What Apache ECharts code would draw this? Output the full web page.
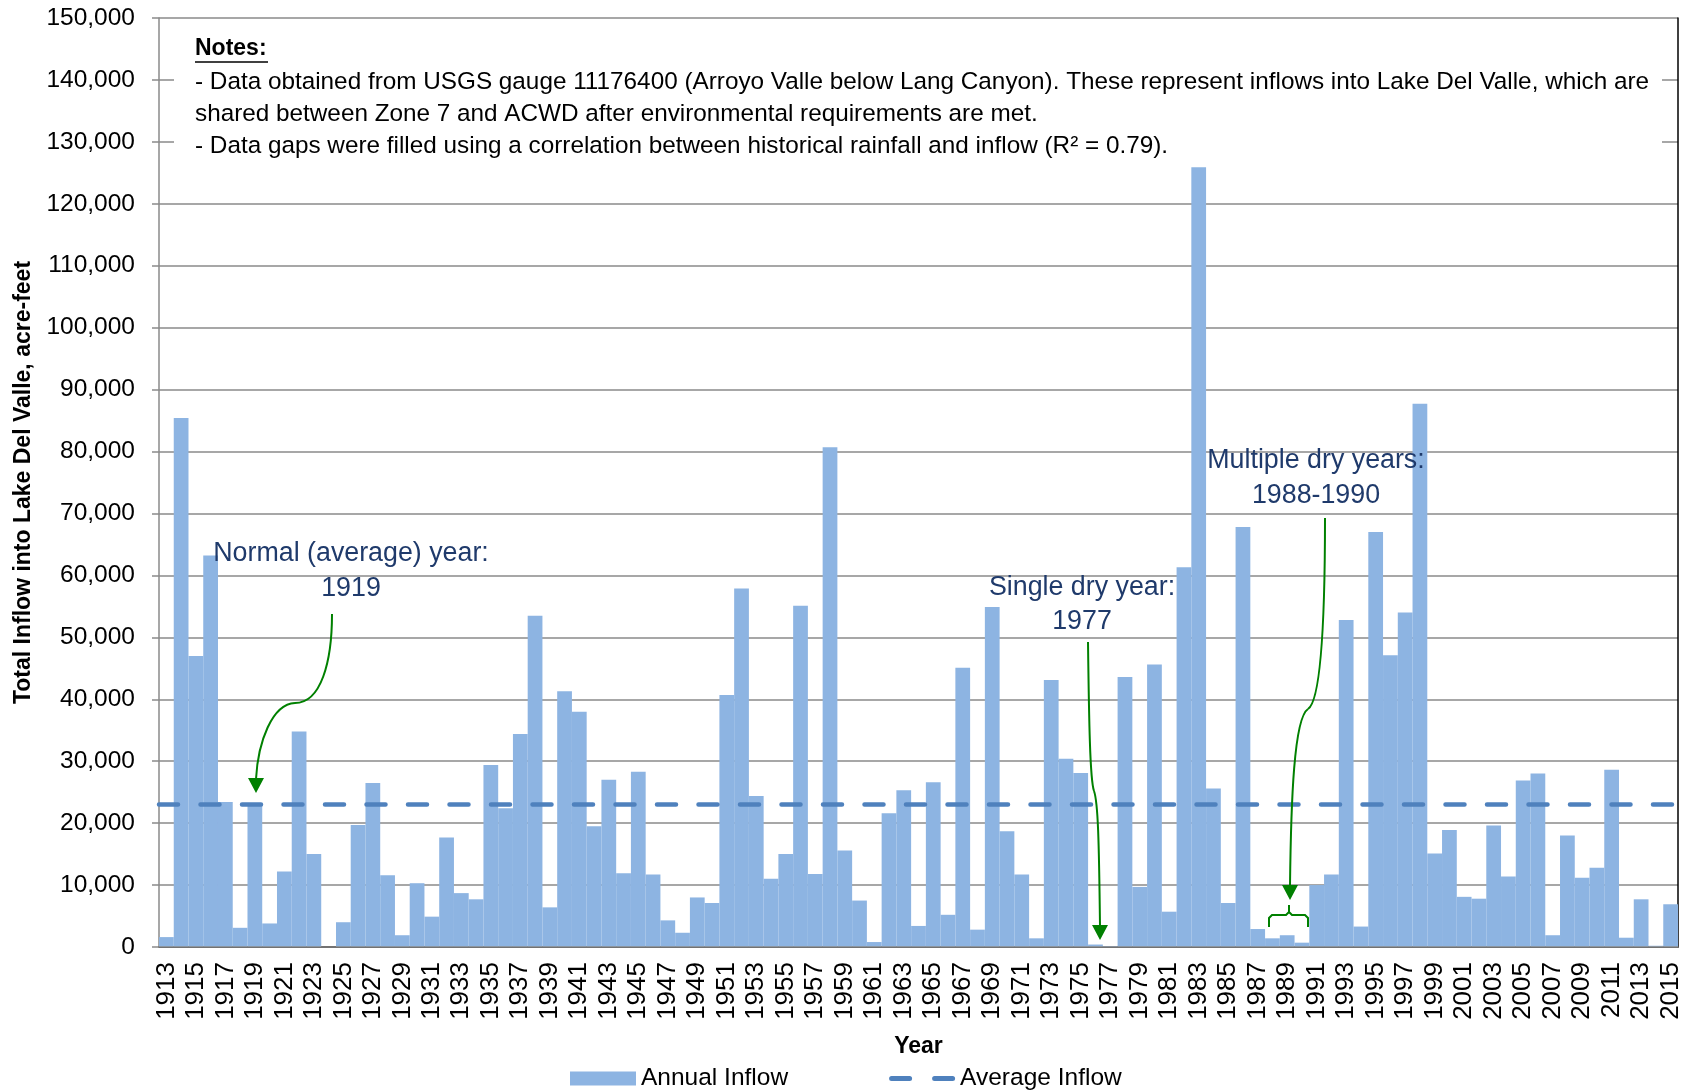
<!DOCTYPE html>
<html>
<head>
<meta charset="utf-8">
<title>Total Inflow into Lake Del Valle</title>
<script src="https://cdn.jsdelivr.net/npm/echarts@6/dist/echarts.min.js"></script>
<style>
  html, body { margin: 0; padding: 0; background: #fff; }
  #chart { width: 1688px; height: 1091px; }
</style>
</head>
<body>
<div id="chart"></div>
<script>
// years on the category axis
var YEARS = [
  '1913','1914','1915','1916','1917','1918','1919','1920','1921','1922',
  '1923','1924','1925','1926','1927','1928','1929','1930','1931','1932',
  '1933','1934','1935','1936','1937','1938','1939','1940','1941','1942',
  '1943','1944','1945','1946','1947','1948','1949','1950','1951','1952',
  '1953','1954','1955','1956','1957','1958','1959','1960','1961','1962',
  '1963','1964','1965','1966','1967','1968','1969','1970','1971','1972',
  '1973','1974','1975','1976','1977','1978','1979','1980','1981','1982',
  '1983','1984','1985','1986','1987','1988','1989','1990','1991','1992',
  '1993','1994','1995','1996','1997','1998','1999','2000','2001','2002',
  '2003','2004','2005','2006','2007','2008','2009','2010','2011','2012',
  '2013','2014','2015'
];

// annual inflow, acre-feet
var ANNUAL_INFLOW = [
  1600, 85400, 47000, 63200, 23400, 3100, 23000, 3800, 12200, 34800,
  15000, 0, 4000, 19700, 26500, 11600, 1900, 10300, 4900, 17700,
  8700, 7700, 29400, 22400, 34400, 53500, 6400, 41300, 38000, 19500,
  27000, 11900, 28300, 11700, 4300, 2300, 8000, 7100, 40700, 57900,
  24400, 11000, 15000, 55100, 11800, 80700, 15600, 7500, 800, 21600,
  25300, 3400, 26600, 5200, 45100, 2800, 54900, 18700, 11700, 1400,
  43100, 30400, 28100, 400, 150, 43600, 9700, 45600, 5700, 61300,
  125900, 25600, 7100, 67800, 2900, 1400, 1900, 700, 10000, 11700,
  52800, 3300, 67000, 47100, 54000, 87700, 15100, 18900, 8100, 7800,
  19600, 11400, 26900, 28000, 1900, 18000, 11200, 12800, 28600, 1500,
  7700, 200, 6900
];

var AVERAGE_INFLOW = 23000;

var NOTES = [
  '- Data obtained from USGS gauge 11176400 (Arroyo Valle below Lang Canyon). These represent inflows into Lake Del Valle, which are',
  'shared between Zone 7 and ACWD after environmental requirements are met.',
  '- Data gaps were filled using a correlation between historical rainfall and inflow (R\u00b2 = 0.79).'
];

var FONT = "'Liberation Sans', Arial, sans-serif";
var GRID_GRAY = '#8a8a8a';
var BAR_BLUE = '#8db4e2';
var AVG_BLUE = '#4f81bd';
var NOTE_BLUE = '#1f3a6b';
var ARROW_GREEN = '#008000';

// two rounded dashes for the legend of the average line
var DASH_ICON = 'path://M2.5,4.5H20.5A2.5,2.5,0,0,1,20.5,9.5H2.5A2.5,2.5,0,0,1,2.5,4.5Z' +
  'M45.5,4.5H63.5A2.5,2.5,0,0,1,63.5,9.5H45.5A2.5,2.5,0,0,1,45.5,4.5Z';

var mychart = echarts.init(document.getElementById('chart'));

function noteText(str, x, y, bold) {
  return {
    type: 'text', z: 10, x: x, y: y,
    style: {
      text: str, fill: '#000',
      font: bold ? 'bold 23px ' + FONT : '24.3px ' + FONT,
      textAlign: 'left', textVerticalAlign: 'middle'
    }
  };
}
function annoText(str, x, y) {
  return {
    type: 'text', z: 10, x: x, y: y,
    style: {
      text: str, fill: NOTE_BLUE, font: '26.8px ' + FONT,
      textAlign: 'center', textVerticalAlign: 'middle'
    }
  };
}
function curve(x1, y1, c1x, c1y, c2x, c2y, x2, y2) {
  return {
    type: 'bezierCurve', z: 10,
    shape: { x1: x1, y1: y1, cpx1: c1x, cpy1: c1y, cpx2: c2x, cpy2: c2y, x2: x2, y2: y2 },
    style: { stroke: ARROW_GREEN, lineWidth: 2, fill: null }
  };
}
function head(x, yTip) {
  return {
    type: 'polygon', z: 10,
    shape: { points: [[x - 8, yTip - 15], [x + 8, yTip - 15], [x, yTip]] },
    style: { fill: ARROW_GREEN }
  };
}

var option = {
  animation: false,
  backgroundColor: '#fff',
  grid: { left: 159, right: 10, top: 18, bottom: 144 },
  legend: {
    left: 565,
    top: 1061,
    itemGap: 101,
    itemWidth: 66,
    itemHeight: 14,
    data: [
      { name: 'Annual Inflow', icon: 'rect' },
      { name: 'Average Inflow', icon: DASH_ICON }
    ],
    textStyle: { color: '#000', fontSize: 24.5, fontFamily: FONT }
  },
  xAxis: [{
    type: 'category',
    data: YEARS,
    z: 5,
    name: 'Year',
    nameLocation: 'middle',
    nameGap: 88,
    nameTextStyle: { color: '#000', fontSize: 23, fontWeight: 'bold', fontFamily: FONT },
    axisLine: { lineStyle: { color: GRID_GRAY, width: 1.5 } },
    axisTick: { interval: 4, length: 8, lineStyle: { color: GRID_GRAY, width: 1.5 } },
    axisLabel: { interval: 1, rotate: 90, margin: 15, color: '#000', fontSize: 26, fontFamily: FONT }
  }, {
    // black frame on top
    type: 'category',
    data: YEARS,
    position: 'top',
    axisLine: { lineStyle: { color: '#000', width: 1.5 } },
    axisTick: { show: false },
    axisLabel: { show: false }
  }],
  yAxis: [{
    type: 'value',
    min: 0,
    max: 150000,
    interval: 10000,
    name: 'Total Inflow into Lake Del Valle, acre-feet',
    nameLocation: 'middle',
    nameGap: 122,
    nameTextStyle: { color: '#000', fontSize: 23, fontWeight: 'bold', fontFamily: FONT },
    axisLine: { show: true, lineStyle: { color: GRID_GRAY, width: 1.5 } },
    axisTick: { show: true, length: 7, lineStyle: { color: GRID_GRAY, width: 1.5 } },
    axisLabel: {
      margin: 24, color: '#000', fontSize: 24.5, fontFamily: FONT,
      formatter: function (v) { return v.toLocaleString('en-US'); }
    },
    splitLine: { lineStyle: { color: GRID_GRAY, width: 1.5 } }
  }, {
    // black frame on the right
    type: 'value',
    min: 0,
    max: 150000,
    position: 'right',
    axisLine: { show: true, lineStyle: { color: '#000', width: 1.5 } },
    axisTick: { show: false },
    axisLabel: { show: false },
    splitLine: { show: false }
  }],
  series: [{
    name: 'Annual Inflow',
    type: 'bar',
    data: ANNUAL_INFLOW,
    barCategoryGap: '0%',
    itemStyle: { color: BAR_BLUE },
    z: 2
  }, {
    name: 'Average Inflow',
    type: 'line',
    data: [],
    symbol: 'none',
    itemStyle: { color: AVG_BLUE },
    lineStyle: { color: AVG_BLUE, width: 4.5, type: [19, 22.5], cap: 'round' },
    z: 4,
    markLine: {
      silent: true,
      symbol: ['none', 'none'],
      label: { show: false },
      lineStyle: { color: AVG_BLUE, width: 4.5, type: [19, 22.5], cap: 'round' },
      data: [{ yAxis: AVERAGE_INFLOW }]
    }
  }],
  graphic: [
    // notes box hides the grid lines behind it
    { type: 'rect', z: 1, shape: { x: 174, y: 20, width: 1488, height: 140 }, style: { fill: '#fff' } },
    noteText('Notes:', 195, 49, true),
    { type: 'line', z: 10, shape: { x1: 195, y1: 62, x2: 268, y2: 62 }, style: { stroke: '#000', lineWidth: 1.5 } },
    noteText(NOTES[0], 195, 82, false),
    noteText(NOTES[1], 195, 114, false),
    noteText(NOTES[2], 195, 146, false),

    annoText('Normal (average) year:', 351, 554),
    annoText('1919', 351, 589),
    curve(332, 614, 332, 662, 321, 703, 295, 703),
    curve(295, 703, 272, 704, 258, 742, 256, 779),
    head(256, 793),

    annoText('Single dry year:', 1082, 588),
    annoText('1977', 1082, 622),
    curve(1088, 642, 1089, 720, 1090, 780, 1094, 791),
    curve(1094, 791, 1098, 802, 1099, 840, 1100, 926),
    head(1100, 940),

    annoText('Multiple dry years:', 1316, 461),
    annoText('1988-1990', 1316, 496),
    curve(1325, 518, 1325, 610, 1322, 700, 1308, 709),
    curve(1308, 709, 1294, 718, 1291, 800, 1290, 886),
    head(1290, 900),
    {
      type: 'polyline', z: 10,
      shape: { points: [[1269, 927], [1269, 918], [1272, 915], [1286, 915], [1289, 912], [1289, 905]] },
      style: { stroke: ARROW_GREEN, lineWidth: 2, fill: null }
    },
    {
      type: 'polyline', z: 10,
      shape: { points: [[1308, 927], [1308, 918], [1305, 915], [1292, 915], [1289, 912]] },
      style: { stroke: ARROW_GREEN, lineWidth: 2, fill: null }
    }
  ]
};
mychart.setOption(option);
</script>
</body>
</html>
